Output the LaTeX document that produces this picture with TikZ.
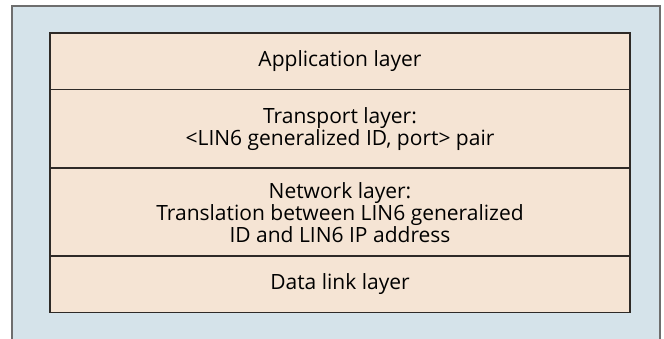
\documentclass[tikz,border=0pt]{standalone}
\usepackage{fontspec}
\setmainfont{Open Sans}
\definecolor{panelblue}{HTML}{D5E3EA}
\definecolor{paneledge}{HTML}{6E6E6E}
\definecolor{layerfill}{HTML}{F5E4D4}
\definecolor{layeredge}{HTML}{2E2A27}
\tikzset{
  layer/.style={draw=layeredge, line width=1.6pt, fill=layerfill,
    minimum width=580pt, inner sep=0pt, outer sep=0pt, align=center,
    font=\fontsize{21}{20.8}\selectfont, text=black},
}
\begin{document}
\begin{tikzpicture}[x=1pt,y=1pt]
  \useasboundingbox (0,0) rectangle (664,339);
  % background panel, open at the bottom
  \fill[panelblue] (12,0) rectangle (660,333);
  \draw[paneledge, line width=1.5pt] (12,0) |- (660,333) -- (660,0);
  % protocol stack, top to bottom
  \node[layer, minimum height=56.7pt, anchor=north west] (app) at (50,306)
    {Application layer};
  \node[layer, minimum height=78.3pt, anchor=north] (trans) at (app.south)
    {Transport layer:\\ {<}LIN6 generalized ID, port{>} pair};
  \node[layer, minimum height=88.3pt, anchor=north] (net) at (trans.south)
    {Network layer:\\ Translation between LIN6 generalized\\ ID and LIN6 IP address};
  \node[layer, minimum height=56.4pt, anchor=north] (link) at (net.south)
    {Data link layer};
\end{tikzpicture}
\end{document}
